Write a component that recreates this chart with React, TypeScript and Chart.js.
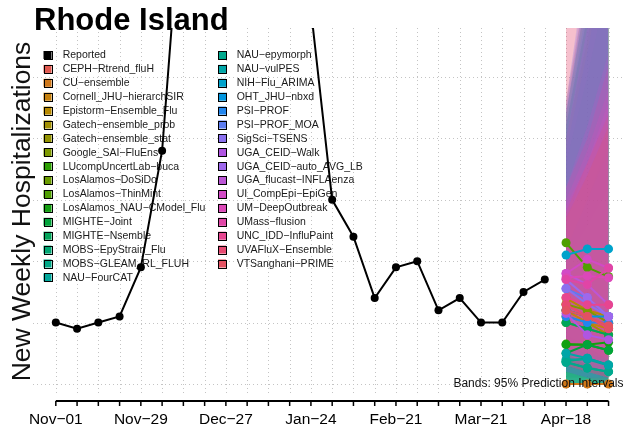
import { useEffect, useRef } from "react";
import { Chart, registerables } from "chart.js";

Chart.register(...registerables);

// ---------------- data ----------------
const WEEK_LABELS = [
  "Nov-01", "Nov-08", "Nov-15", "Nov-22", "Nov-29", "Dec-06", "Dec-13", "Dec-20", "Dec-27",
  "Jan-03", "Jan-10", "Jan-17", "Jan-24", "Jan-31", "Feb-07", "Feb-14", "Feb-21", "Feb-28",
  "Mar-07", "Mar-14", "Mar-21", "Mar-28", "Apr-04", "Apr-11", "Apr-18", "Apr-25", "May-02",
];
const LABEL_EVERY = 4;

const REPORTED = [10, 9, 10, 11, 19, 38, 83, 105, 118, 100, 88, 74, 61, 30, 24, 14, 19, 20, 12, 14, 10, 10, 15, 17];

const FORECAST_WEEKS = [24, 25, 26];

const GRID_Y = [0, 10, 20, 30, 40, 50];

const MODEL_NAMES = [
  "CEPH-Rtrend_fluH", "CU-ensemble", "Cornell_JHU-hierarchSIR", "Epistorm-Ensemble_Flu",
  "Gatech-ensemble_prob", "Gatech-ensemble_stat", "Google_SAI-FluEns", "LUcompUncertLab-buca",
  "LosAlamos-DoSiDo", "LosAlamos-ThinMint", "LosAlamos_NAU-CModel_Flu", "MIGHTE-Joint",
  "MIGHTE-Nsemble", "MOBS-EpyStrain_Flu", "MOBS-GLEAM_RL_FLUH", "NAU-FourCAT",
  "NAU-epymorph", "NAU-vulPES", "NIH-Flu_ARIMA", "OHT_JHU-nbxd",
  "PSI-PROF", "PSI-PROF_MOA", "SigSci-TSENS", "UGA_CEID-Walk",
  "UGA_CEID-auto_AVG_LB", "UGA_flucast-INFLAenza", "UI_CompEpi-EpiGen", "UM-DeepOutbreak",
  "UMass-flusion", "UNC_IDD-InfluPaint", "UVAFluX-Ensemble", "VTSanghani-PRIME",
];

const MODEL_COLORS = [
  "#E25A50", "#D0781A", "#C7800C", "#B88A00",
  "#A39000", "#949400", "#7E9A00", "#2AA000",
  "#6A9C00", "#4FA000", "#12A010", "#00A43A",
  "#00A65A", "#00A874", "#00A887", "#00A89C",
  "#00A98E", "#00A6A8", "#00A2CB", "#0096E0",
  "#2286EE", "#5C7CF0", "#8A70EE", "#B055E2",
  "#9E68EC", "#BC56D6", "#D24AC6", "#DC48B8",
  "#E045A6", "#E74590", "#E84A72", "#E35262",
];

const MEDIANS = [
  [13, 11, 9], [0, 0, 0], [12, 10, 9], [14, 12, 11],
  [11, 10, 8], [12, 11, 9], [13, 12, 10], [6.5, 6.4, 5.5],
  [10, 9, 8], [23, 19, 17.5], [6.4, 6.4, 6.8], [5, 6.4, 5.5],
  [10, 9, 8], [3.7, 4.2, 3.1], [3.6, 2.6, 2], [4, 4, 3],
  [3.5, 2.6, 2], [5, 4.2, 3.1], [21, 22, 22], [12, 11, 11],
  [11, 10, 10], [15.5, 14, 11], [15.6, 13, 11], [11.5, 8, 7.2],
  [17, 14.1, 11], [18, 16.2, 12.9], [18, 20.3, 18.9], [17.3, 17.6, 17.3],
  [17, 16.2, 18.9], [14.1, 12.9, 12.9], [12.9, 11, 9], [12, 11, 9.5],
];

const LOWER_95 = [
  [3, 2, 1], [0, 0, 0], [2, 1, 0], [4, 3, 2],
  [2, 1, 1], [3, 2, 1], [4, 3, 2], [0, 0, 0],
  [1, 1, 0], [8, 6, 4], [0, 0, 0], [0, 0, 0],
  [2, 1, 0], [0, 0, 0], [0, 0, 0], [0, 0, 0],
  [0, 0, 0], [0, 0, 0], [7, 6, 5], [3, 2, 1],
  [2, 1, 1], [4, 3, 2], [5, 3, 2], [2, 1, 0],
  [5, 3, 2], [6, 4, 3], [5, 6, 4], [6, 5, 4],
  [5, 4, 4], [3, 2, 1], [3, 2, 1], [3, 2, 1],
];

const UPPER_95 = [
  [70, 95, 120], [3, 4, 5], [42, 60, 80], [46, 66, 90],
  [40, 56, 75], [42, 60, 82], [44, 64, 88], [24, 34, 44],
  [40, 56, 76], [44, 64, 86], [36, 50, 66], [24, 32, 42],
  [42, 60, 82], [22, 30, 38], [20, 26, 32], [26, 36, 46],
  [22, 30, 40], [38, 54, 72], [44, 66, 92], [42, 62, 86],
  [44, 64, 90], [46, 70, 100], [45, 66, 94], [40, 58, 80],
  [46, 68, 96], [32, 42, 54], [30, 38, 48], [29, 36, 46],
  [32, 40, 52], [78, 105, 135], [28, 36, 44], [27, 34, 42],
];

const TITLE = "Rhode Island";
const Y_TITLE = "New Weekly Hospitalizations";
const BAND_NOTE = "Bands: 95% Prediction Intervals";

// ---------------- helpers ----------------
const FONT = "'Liberation Sans', Arial, Helvetica, sans-serif";
const show = (s: string) => s.replace(/-/g, "\u2212");

function rgba(hex: string, a: number) {
  const n = parseInt(hex.slice(1), 16);
  return `rgba(${(n >> 16) & 255},${(n >> 8) & 255},${n & 255},${a})`;
}

const decor = {
  id: "decor",
  beforeDatasetsDraw(chart: any) {
    const { ctx, chartArea: a, scales } = chart;
    const x = scales.x;
    const y = scales.y;
    ctx.save();
    ctx.beginPath();
    ctx.rect(a.left, a.top, a.right - a.left, a.bottom - a.top);
    ctx.clip();
    ctx.strokeStyle = "#C4C4C4";
    ctx.lineWidth = 1;
    ctx.setLineDash([1, 3]);
    WEEK_LABELS.forEach((_, i) => {
      const px = Math.round(x.getPixelForValue(i)) + 0.5;
      ctx.beginPath();
      ctx.moveTo(px, a.top);
      ctx.lineTo(px, a.bottom);
      ctx.stroke();
    });
    GRID_Y.forEach((v) => {
      const py = Math.round(y.getPixelForValue(v)) + 0.5;
      ctx.beginPath();
      ctx.moveTo(a.left, py);
      ctx.lineTo(a.right, py);
      ctx.stroke();
    });
    ctx.restore();

    // legend
    const names = ["Reported", ...MODEL_NAMES];
    const cols = ["#000000", ...MODEL_COLORS];
    const perCol = 17;
    ctx.save();
    ctx.font = `10.5px ${FONT}`;
    ctx.textBaseline = "middle";
    ctx.textAlign = "left";
    names.forEach((nm, i) => {
      const c = Math.floor(i / perCol);
      const r = i % perCol;
      const sx = c === 0 ? 47.5 : 222;
      const tx = c === 0 ? 62.7 : 236.7;
      const cy = 55 + r * 13.9;
      ctx.fillStyle = cols[i];
      ctx.fillRect(sx - 4, cy - 4, 8, 8);
      ctx.strokeStyle = "#000";
      ctx.lineWidth = 1;
      ctx.strokeRect(Math.round(sx - 4) + 0.5, Math.round(cy - 4) + 0.5, 8, 8);
      ctx.fillStyle = "#1a1a1a";
      ctx.fillText(show(nm), tx, cy + 0.5);
    });
    ctx.restore();
  },
  afterDatasetsDraw(chart: any) {
    const { ctx, chartArea: a } = chart;
    ctx.save();
    ctx.font = `12px ${FONT}`;
    ctx.fillStyle = "#111";
    ctx.textAlign = "right";
    ctx.textBaseline = "alphabetic";
    ctx.fillText(BAND_NOTE, a.right - 1, 387);
    ctx.restore();
  },
  afterDraw(chart: any) {
    const { ctx, scales } = chart;
    const x = scales.x;
    ctx.save();
    // title
    ctx.font = `bold 31px ${FONT}`;
    ctx.fillStyle = "#000";
    ctx.textAlign = "left";
    ctx.textBaseline = "alphabetic";
    ctx.fillText(TITLE, 34, 29.5);

    // y title
    ctx.save();
    ctx.translate(29.5, 211.5);
    ctx.rotate(-Math.PI / 2);
    ctx.font = `26.5px ${FONT}`;
    ctx.fillStyle = "#111";
    ctx.textAlign = "center";
    ctx.fillText(Y_TITLE, 0, 0);
    ctx.restore();

    // x axis
    const axY = 401;
    const x0 = x.getPixelForValue(0);
    const x1 = x.getPixelForValue(WEEK_LABELS.length - 1);
    ctx.strokeStyle = "#000";
    ctx.lineWidth = 2;
    ctx.beginPath();
    ctx.moveTo(x0, axY);
    ctx.lineTo(x1, axY);
    ctx.stroke();
    ctx.lineWidth = 1.5;
    WEEK_LABELS.forEach((_, i) => {
      const px = x.getPixelForValue(i);
      ctx.beginPath();
      ctx.moveTo(px, axY);
      ctx.lineTo(px, axY + 5);
      ctx.stroke();
    });
    ctx.font = `15.5px ${FONT}`;
    ctx.fillStyle = "#000";
    ctx.textAlign = "center";
    WEEK_LABELS.forEach((lab, i) => {
      if (i % LABEL_EVERY !== 0) return;
      ctx.fillText(show(lab), x.getPixelForValue(i), 424);
    });
    ctx.restore();
  },
};

export default function App() {
  const ref = useRef<HTMLCanvasElement | null>(null);

  useEffect(() => {
    if (!ref.current) return;
    const datasets: any[] = [];
    const n = MODEL_NAMES.length;

    // bands (drawn first)
    MODEL_NAMES.forEach((nm, i) => {
      datasets.push({
        label: nm + " lo",
        data: FORECAST_WEEKS.map((w, k) => ({ x: w, y: LOWER_95[i][k] })),
        borderWidth: 0,
        borderColor: "rgba(0,0,0,0)",
        pointRadius: 0,
        fill: false,
        order: 200 + (n - i),
        clip: 0,
      });
      datasets.push({
        label: nm + " hi",
        data: FORECAST_WEEKS.map((w, k) => ({ x: w, y: UPPER_95[i][k] })),
        borderWidth: 0,
        borderColor: "rgba(0,0,0,0)",
        backgroundColor: rgba(MODEL_COLORS[i], 0.2),
        pointRadius: 0,
        fill: "-1",
        order: 200 + (n - i),
        clip: 0,
      });
    });

    // medians
    MODEL_NAMES.forEach((nm, i) => {
      datasets.push({
        label: nm,
        data: FORECAST_WEEKS.map((w, k) => ({ x: w, y: MEDIANS[i][k] })),
        borderColor: MODEL_COLORS[i],
        backgroundColor: MODEL_COLORS[i],
        pointBackgroundColor: MODEL_COLORS[i],
        pointBorderWidth: 0,
        pointRadius: 4.5,
        borderWidth: 2,
        fill: false,
        tension: 0,
        order: 10 + (n - i),
        clip: 0,
      });
    });

    // reported
    datasets.push({
      label: "Reported",
      data: REPORTED.map((v, i) => ({ x: i, y: v })),
      borderColor: "#000",
      backgroundColor: "#000",
      pointBackgroundColor: "#000",
      pointBorderWidth: 0,
      pointRadius: 4,
      borderWidth: 2,
      fill: false,
      tension: 0,
      order: 0,
      clip: 0,
    });

    const chart = new Chart(ref.current, {
      type: "line",
      data: { datasets },
      options: {
        animation: false,
        responsive: false,
        devicePixelRatio: 1,
        events: [],
        layout: { padding: { left: 33, top: 28, right: 0, bottom: 36 } },
        scales: {
          x: { type: "linear", min: -1.073, max: 26.75, display: false },
          y: { type: "linear", min: -1.8, max: 58.0, display: false },
        },
        plugins: {
          legend: { display: false },
          title: { display: false },
          tooltip: { enabled: false },
        },
      },
      plugins: [decor],
    } as any);
    return () => chart.destroy();
  }, []);

  return (
    <div style={{ position: "absolute", left: 0, top: 0, width: 629, height: 431, background: "#fff" }}>
      <canvas ref={ref} width={629} height={431} style={{ display: "block", width: 629, height: 431 }} />
    </div>
  );
}
